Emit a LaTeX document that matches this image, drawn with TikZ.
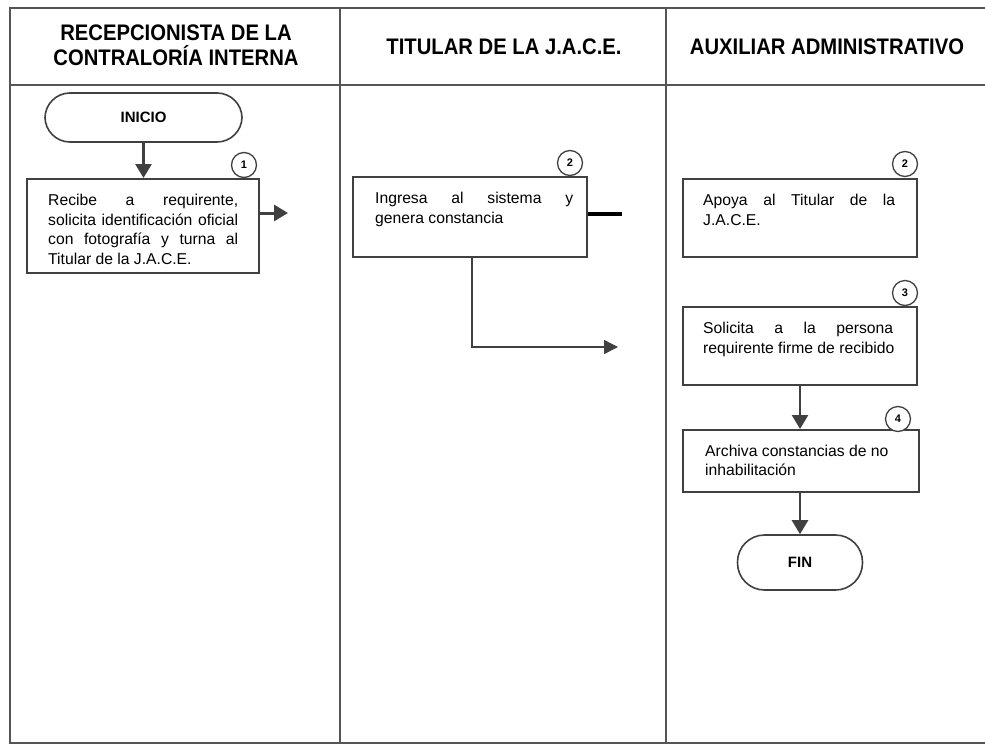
\documentclass[tikz,border=0pt]{standalone}
\usepackage{fontspec}
\setmainfont{Liberation Sans}
\newfontfamily\headfont[FakeStretch=0.9]{Liberation Sans}
\usetikzlibrary{arrows.meta}
\definecolor{ln}{HTML}{555555}
\definecolor{ar}{HTML}{404040}
\newcommand{\jl}[2]{\makebox[#1][s]{#2}}
\newcommand{\fl}{\rule{0pt}{14pt}}
\tikzset{
  frame/.style={draw=ln,line width=1.5pt},
  header/.style={font=\headfont\bfseries\fontsize{22.5}{25}\selectfont,align=center,inner sep=0pt},
  procbox/.style={draw=ar,line width=2pt,rectangle,inner sep=0pt},
  terminal/.style={draw=ar,line width=1.6pt,rectangle,rounded corners=25pt,inner sep=0pt,font=\bfseries\fontsize{15}{18}\selectfont},
  boxtext/.style={anchor=north west,inner sep=0pt,align=left,font=\fontsize{15.7}{19.5}\selectfont},
  stepnum/.style={draw=ar,line width=1.3pt,circle,fill=white,minimum size=25pt,inner sep=0pt,font=\bfseries\fontsize{11}{13}\selectfont},
  flow/.style={draw=ar,line width=2.6pt,-{Triangle[length=14pt,width=16pt]}},
  thinflow/.style={draw=ar,line width=1.5pt,-{Triangle[length=14pt,width=14pt]}},
}
\begin{document}
\begin{tikzpicture}[x=1pt,y=-1pt]
\useasboundingbox (0,0) rectangle (985,747);
% frame
\draw[frame] (985,8) -- (10,8) -- (10,743) -- (985,743);
\draw[frame] (10,85) -- (985,85);
\draw[frame] (340,8) -- (340,743);
\draw[frame] (666,8) -- (666,743);
% headers
\node[header] (h1) at (176,45.5) {RECEPCIONISTA DE LA\\CONTRALORÍA INTERNA};
\node[header] (h2) at (504,46.5) {TITULAR DE LA J.A.C.E.};
\node[header] (h3) at (827,46.5) {AUXILIAR ADMINISTRATIVO};
% terminals
\node[terminal,minimum width=197pt,minimum height=49pt] (inicio) at (143.5,117.5) {INICIO};
\node[terminal,minimum width=125pt,minimum height=55pt,rounded corners=27pt] (fin) at (800,562.5) {FIN};
% boxes
\node[procbox,minimum width=232pt,minimum height=94pt] (b1) at (143,226) {};
\node[procbox,minimum width=234pt,minimum height=80pt] (b2) at (470,217) {};
\node[procbox,minimum width=234pt,minimum height=78pt] (b2b) at (800,218) {};
\node[procbox,minimum width=234pt,minimum height=78pt] (b3) at (800,346) {};
\node[procbox,minimum width=236pt,minimum height=62pt] (b4) at (801,461) {};
% texts
\node[boxtext] (t1) at (48,191.5) {\fl\jl{190pt}{Recibe a requirente,}\\\jl{190pt}{solicita identificación oficial}\\\jl{190pt}{con fotografía y turna al}\\Titular de la J.A.C.E.};
\node[boxtext] (t2) at (375,189.5) {\fl\jl{198pt}{Ingresa al sistema y}\\genera constancia};
\node[boxtext] (t2b) at (703,191.5) {\fl\jl{192pt}{Apoya al Titular de la}\\J.A.C.E.};
\node[boxtext] (t3) at (703,319.5) {\fl\jl{190pt}{Solicita a la persona}\\requirente firme de recibido};
\node[boxtext] (t4) at (705,442) {\fl Archiva constancias de no\\inhabilitación};
% step numbers
\node[stepnum] (n1) at (244,165) {1};
\node[stepnum] (n2) at (570,163) {2};
\node[stepnum] (n2b) at (905,164) {2};
\node[stepnum] (n3) at (905,293) {3};
\node[stepnum] (n4) at (898,419) {4};
% connector end points
\coordinate (c1) at (288,213);
\coordinate (c2) at (622,214);
\coordinate (c3) at (618,347);
% connectors
\draw[flow] (inicio.south) -- (inicio.south |- b1.north);
\draw[flow,line width=3pt] (b1.east |- c1) -- (c1);
\draw[draw=black,line width=4pt] (b2.east |- c2) -- (c2);
\draw[thinflow] ([xshift=2pt]b2.south) |- (c3);
\draw[flow] (b3.south) -- (b3.south |- b4.north);
\draw[flow] (b3.south |- b4.south) -- (fin.north);
\end{tikzpicture}
\end{document}
